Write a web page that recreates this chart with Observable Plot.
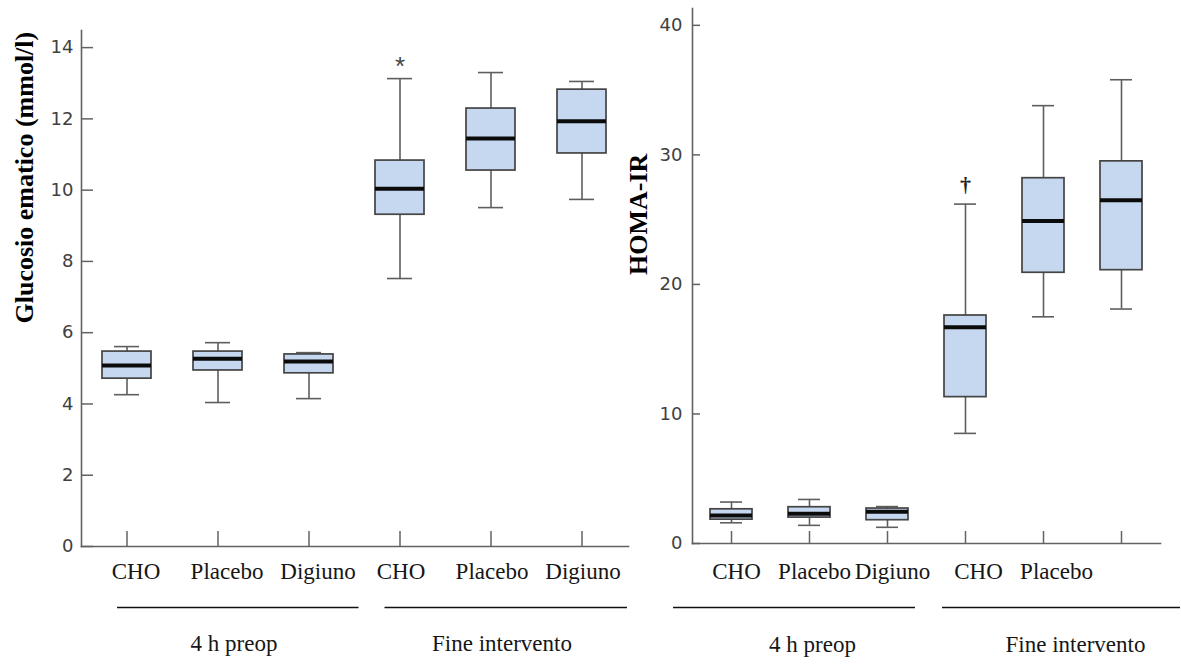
<!DOCTYPE html>
<html>
<head>
<meta charset="utf-8">
<script src="https://cdn.jsdelivr.net/npm/d3@7"></script>
<script src="https://cdn.jsdelivr.net/npm/@observablehq/plot@0.6"></script>
<style>
  body { margin: 0; background: #fff; }
  #chart { position: relative; width: 1181px; height: 665px; overflow: hidden; }
  #chart svg { position: absolute; top: 0; }
</style>
</head>
<body>
<div id="chart"></div>
<script>
// Categories: three arms measured at two time points
const keys = ["pre-CHO", "pre-Placebo", "pre-Digiuno", "post-CHO", "post-Placebo", "post-Digiuno"];
const groupOf = [0, 0, 0, 1, 1, 1];
const groupNames = ["4 h preop", "Fine intervento"];

// Blood glucose (mmol/l): whisker low, Q1, median, Q3, whisker high
const glucoseLabels = ["CHO", "Placebo", "Digiuno", "CHO", "Placebo", "Digiuno"];
const glucoseTicks = [0, 2, 4, 6, 8, 10, 12, 14];
const glucoseLow = [4.26, 4.04, 4.15, 7.52, 9.51, 9.74];
const glucoseQ1  = [4.71, 4.94, 4.86, 9.31, 10.55, 11.03];
const glucoseMed = [5.08, 5.27, 5.19, 10.04, 11.45, 11.93];
const glucoseQ3  = [5.47, 5.47, 5.39, 10.83, 12.29, 12.82];
const glucoseHigh = [5.61, 5.72, 5.44, 13.13, 13.30, 13.05];

// HOMA-IR: whisker low, Q1, median, Q3, whisker high
const homaLabels = ["CHO", "Placebo", "Digiuno", "CHO", "Placebo", ""];
const homaTicks = [0, 10, 20, 30, 40];
const homaLow = [1.6, 1.4, 1.25, 8.5, 17.5, 18.1];
const homaQ1  = [1.84, 2.0, 1.8, 11.3, 20.9, 21.1];
const homaMed = [2.16, 2.3, 2.45, 16.7, 24.9, 26.5];
const homaQ3  = [2.64, 2.8, 2.7, 17.6, 28.2, 29.5];
const homaHigh = [3.2, 3.4, 2.85, 26.2, 33.8, 35.8];

const H = 665;
const serif = "'Liberation Serif', 'Times New Roman', serif";
const axisColor = "#626262";

function boxPanel(cfg) {
  const rows = keys.map((key, i) => ({
    key, group: groupOf[i], label: cfg.labels[i],
    lo: cfg.lo[i], q1: cfg.q1[i], med: cfg.med[i], q3: cfg.q3[i], hi: cfg.hi[i]
  }));
  const plotW = cfg.width - cfg.marginLeft - cfg.marginRight;
  const plotH = H - cfg.marginTop - cfg.marginBottom;

  const groupMarks = groupNames.flatMap((name, gi) => {
    const members = rows.filter(r => r.group === gi);
    const L = cfg.groupLayout[gi];
    return [
      Plot.text(members, {x: "key", text: "label", frameAnchor: "bottom", dy: cfg.labelDy, dx: L.labelDx,
        fontSize: 23, fontFamily: serif, fill: "#161616"}),
      Plot.ruleY([name], {x1: () => members[0].key, x2: () => members[members.length - 1].key, y: () => 0,
        dy: cfg.lineDy, insetLeft: L.lineLeft, insetRight: L.lineRight, stroke: "#111", strokeWidth: 1.5}),
      Plot.text([name], {x: () => members[1].key, text: d => d, frameAnchor: "bottom", dy: cfg.groupDy, dx: L.groupDx,
        fontSize: 23, fontFamily: serif, fill: "#161616"})
    ];
  });

  const note = rows[cfg.note.index];

  return Plot.plot({
    width: cfg.width,
    height: H,
    marginLeft: cfg.marginLeft,
    marginRight: cfg.marginRight,
    marginTop: cfg.marginTop,
    marginBottom: cfg.marginBottom,
    style: {background: "transparent", overflow: "visible"},
    x: {type: "band", domain: keys, paddingInner: 0.46, paddingOuter: 0.23, axis: null},
    y: {domain: [0, cfg.yMax], axis: null},
    marks: [
      Plot.frame({anchor: "left", stroke: axisColor, strokeWidth: 1.6}),
      Plot.frame({anchor: "bottom", stroke: axisColor, strokeWidth: 1.6}),
      Plot.tickY(cfg.ticks, {y: d => d, insetRight: plotW - cfg.yTickLen, stroke: axisColor, strokeWidth: 1.5}),
      Plot.axisY({ticks: cfg.ticks, tickSize: 0, tickPadding: cfg.yLabelPad, fontSize: 18,
        fontFamily: "'DejaVu Sans', sans-serif", color: "#404040", label: null}),
      Plot.tickX(keys, {x: d => d, insetTop: plotH - cfg.xTickLen, stroke: axisColor, strokeWidth: 1.5}),
      // whiskers and caps
      Plot.ruleX(rows, {x: "key", y1: "lo", y2: "q1", stroke: "#5e5e5e", strokeWidth: 1.6}),
      Plot.ruleX(rows, {x: "key", y1: "q3", y2: "hi", stroke: "#5e5e5e", strokeWidth: 1.6}),
      Plot.tickY(rows, {x: "key", y: "lo", insetLeft: cfg.capInset, insetRight: cfg.capInset, stroke: "#5e5e5e", strokeWidth: 1.6}),
      Plot.tickY(rows, {x: "key", y: "hi", insetLeft: cfg.capInset, insetRight: cfg.capInset, stroke: "#5e5e5e", strokeWidth: 1.6}),
      // interquartile boxes and medians
      Plot.barY(rows, {x: "key", y1: "q1", y2: "q3", fill: "#c6d8f0", stroke: "#444", strokeWidth: 1.7}),
      Plot.tickY(rows, {x: "key", y: "med", stroke: "#0b0b0b", strokeWidth: 4}),
      // significance mark
      Plot.text([note], {x: "key", y: "hi", text: () => cfg.note.text, dy: cfg.note.dy,
        fontSize: cfg.note.size, fontFamily: cfg.note.font, fontWeight: cfg.note.weight, fill: cfg.note.color}),
      // axis title
      Plot.text([cfg.title], {text: d => d, frameAnchor: "left", rotate: -90, dx: cfg.titleDx, dy: cfg.titleDy,
        fontSize: 26, fontWeight: "bold", fontFamily: serif, fill: "#000"}),
      ...groupMarks
    ]
  });
}

const left = boxPanel({
  width: 640, marginLeft: 81, marginRight: 12, marginTop: 30, marginBottom: 119,
  yMax: 14.48, ticks: glucoseTicks, yTickLen: 12, xTickLen: 15, yLabelPad: 8, capInset: 12,
  labels: glucoseLabels, lo: glucoseLow, q1: glucoseQ1, med: glucoseMed, q3: glucoseQ3, hi: glucoseHigh,
  labelDy: 32, lineDy: 61, groupDy: 104,
  groupLayout: [
    {labelDx: 9, lineLeft: 15, lineRight: -25.5, groupDx: 16},
    {labelDx: 1, lineLeft: 9.5, lineRight: -21, groupDx: 11}
  ],
  title: "Glucosio ematico (mmol/l)", titleDx: -57, titleDy: 35,
  note: {index: 3, text: "*", dy: -12, size: 26, font: "'Liberation Sans', sans-serif", weight: "normal", color: "#444"}
});

const right = boxPanel({
  width: 581, marginLeft: 92, marginRight: 21, marginTop: 8, marginBottom: 122,
  yMax: 41.3, ticks: homaTicks, yTickLen: 8, xTickLen: 12, yLabelPad: 10, capInset: 10,
  labels: homaLabels, lo: homaLow, q1: homaQ1, med: homaMed, q3: homaQ3, hi: homaHigh,
  labelDy: 35, lineDy: 64, groupDy: 108,
  groupLayout: [
    {labelDx: 5, lineLeft: -37, lineRight: -7, groupDx: 3},
    {labelDx: 13, lineLeft: -2, lineRight: -38, groupDx: 32}
  ],
  title: "HOMA-IR", titleDx: -54, titleDy: -1,
  note: {index: 3, text: "†", dy: -19, size: 22, font: serif, weight: "bold", color: "#222"}
});

left.style.left = "0px";
right.style.left = "600px";
const chart = document.getElementById("chart");
chart.append(left, right);
</script>
</body>
</html>
